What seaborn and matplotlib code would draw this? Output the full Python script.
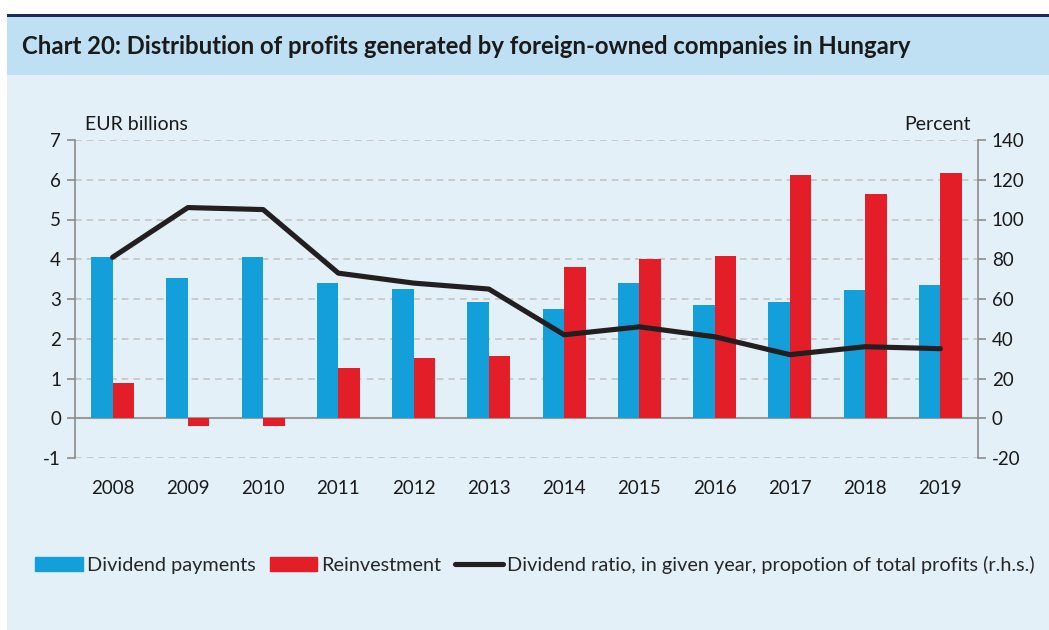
import matplotlib
matplotlib.use("Agg")
import matplotlib.pyplot as plt
import matplotlib.patches as mpatches
from matplotlib.lines import Line2D
import seaborn as sns
import numpy as np
import pandas as pd

sns.set_theme(style="white")
plt.rcParams['font.family'] = ['Lato', 'DejaVu Sans']
plt.rcParams['axes.unicode_minus'] = False

# data
YEARS = ['2008', '2009', '2010', '2011', '2012', '2013', '2014', '2015', '2016', '2017', '2018', '2019']
dividends = [4.05, 3.52, 4.05, 3.40, 3.25, 2.93, 2.75, 3.40, 2.85, 2.93, 3.23, 3.36]
reinvest = [0.88, -0.20, -0.20, 1.27, 1.52, 1.57, 3.80, 4.00, 4.07, 6.13, 5.63, 6.18]
ratio = [81, 106, 105, 73, 68, 65, 42, 46, 41, 32, 36, 35]

BLUE = '#139FD9'
RED = '#E31E28'
BLACK = '#231F20'
GRAY = '#8C8C8C'

df = pd.DataFrame({'year': YEARS * 2,
                   'value': dividends + reinvest,
                   'kind': ['Dividend payments'] * len(YEARS) + ['Reinvestment'] * len(YEARS)})

fig = plt.figure(figsize=(10.49, 6.3), dpi=100)
fig.patch.set_facecolor('white')
# background panels
fig.patches.append(mpatches.Rectangle((7/1049, 0), 1 - 7/1049, 1 - 75/630, transform=fig.transFigure,
                                      facecolor='#E3F0F7', edgecolor='none', zorder=-3))
fig.patches.append(mpatches.Rectangle((7/1049, 1 - 75/630), 1 - 7/1049, 59/630, transform=fig.transFigure,
                                      facecolor='#BEE0F2', edgecolor='none', zorder=-2))
fig.patches.append(mpatches.Rectangle((7/1049, 1 - 17/630), 1 - 7/1049, 3/630, transform=fig.transFigure,
                                      facecolor='#1F2A55', edgecolor='none', zorder=-1))
fig.text(22/1049, 1 - 47/630, 'Chart 20: Distribution of profits generated by foreign-owned companies in Hungary',
         fontsize=17.2, fontweight='bold', color='#1A1A1A', va='center', ha='left')

ax = fig.add_axes([75/1049, 172/630, 903/1049, 318/630])
ax.set_facecolor('none')
sns.barplot(data=df, x='year', y='value', hue='kind', palette=[BLUE, RED],
            width=0.57, dodge=True, saturation=1, ax=ax, legend=False, zorder=3)
for p in ax.patches:
    p.set_edgecolor('none')

ax.set_ylim(-1, 7)
ax.set_xlim(-0.5, len(YEARS) - 0.5)
ax.set_yticks(range(-1, 8))
ax.set_xlabel('')
ax.set_ylabel('')
for y in range(-1, 8):
    if y == 0:
        ax.axhline(0, color='#9A9A9A', lw=1.5, zorder=2)
    else:
        ax.axhline(y, color='#C4C4C4', lw=1.2, ls=(0, (4, 3)), zorder=1)

for s in ['top', 'bottom']:
    ax.spines[s].set_visible(False)
ax.spines['left'].set_color(GRAY)
ax.spines['left'].set_linewidth(1.2)
ax.spines['right'].set_visible(False)
ax.tick_params(axis='y', left=True, length=6, width=1.2, color=GRAY, labelsize=13.5, labelcolor='#1A1A1A', pad=4)
ax.tick_params(axis='x', bottom=False, labelsize=13.5, labelcolor='#1A1A1A', pad=10)

ax2 = ax.twinx()
ax2.set_position(ax.get_position())
sns.lineplot(x=np.arange(len(YEARS)), y=ratio, color=BLACK, lw=3.7, ax=ax2, zorder=4)
ax2.set_ylim(-20, 140)
ax2.set_yticks(range(-20, 141, 20))
for s in ['top', 'bottom', 'left']:
    ax2.spines[s].set_visible(False)
ax2.spines['right'].set_color(GRAY)
ax2.spines['right'].set_linewidth(1.2)
ax2.tick_params(axis='y', right=True, length=6, width=1.2, color=GRAY, labelsize=13.5, labelcolor='#1A1A1A', pad=4)

fig.text(85/1049, 1 - 124/630, 'EUR billions', fontsize=14, color='#1A1A1A', va='center', ha='left')
fig.text(971/1049, 1 - 125/630, 'Percent', fontsize=14, color='#1A1A1A', va='center', ha='right')

handles = [mpatches.Patch(color=BLUE), mpatches.Patch(color=RED), Line2D([], [], color=BLACK, lw=3.7)]
labels = ['Dividend payments', 'Reinvestment', 'Dividend ratio, in given year, propotion of total profits (r.h.s.)']
fig.legend(handles, labels, loc='center', bbox_to_anchor=(0.51, 1 - 565/630), ncol=3, frameon=False,
           fontsize=14.3, handlelength=2.4, handleheight=0.7, handletextpad=0.2, columnspacing=0.7)

fig.savefig('out.png', dpi=100)
